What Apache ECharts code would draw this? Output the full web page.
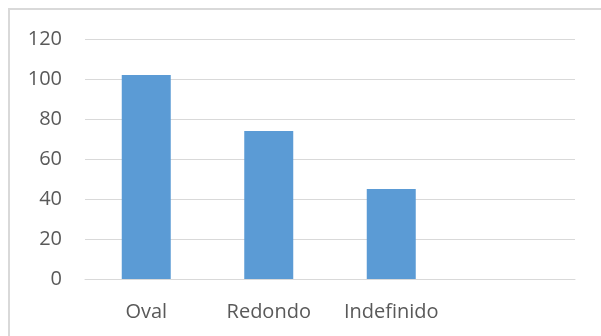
<!DOCTYPE html>
<html>
<head>
<meta charset="utf-8">
<script src="https://cdn.jsdelivr.net/npm/echarts@6/dist/echarts.min.js"></script>
<style>
    html, body { margin: 0; padding: 0; background: #fff; }
    #chart { width: 601px; height: 336px; }
</style>
</head>
<body>
<div id="chart"></div>
<script>
// Data
const categories = ['Oval', 'Redondo', 'Indefinido', ''];
const values = [102, 74, 45, null];
const yTicks = [0, 20, 40, 60, 80, 100, 120];

const labelColor = '#595959';
const gridColor = '#d9d9d9';
const barColor = '#5b9bd5';

let myChart = echarts.init(document.getElementById('chart'), null, { renderer: 'canvas' });

let option = {
    backgroundColor: '#fff',
    animation: false,
    textStyle: { fontFamily: 'Open Sans' },
    grid: { left: 85, right: 26, top: 39, bottom: 57 },
    xAxis: {
        type: 'category',
        data: categories,
        axisTick: { show: false },
        axisLine: { show: true, lineStyle: { color: gridColor, width: 1 } },
        axisLabel: { color: labelColor, fontSize: 20, margin: 23, interval: 0, hideOverlap: false, fontFamily: 'Open Sans' },
        splitLine: { show: false }
    },
    yAxis: {
        type: 'value',
        min: yTicks[0],
        max: yTicks[yTicks.length - 1],
        interval: 20,
        axisTick: { show: false },
        axisLine: { show: false },
        axisLabel: { color: labelColor, fontSize: 20, margin: 23, fontFamily: 'Open Sans' },
        splitLine: { show: true, lineStyle: { color: gridColor, width: 1 } }
    },
    graphic: [
        // partial frame of the chart area (top and left edges only)
        { type: 'rect', shape: { x: 8, y: 8, width: 600, height: 2 }, style: { fill: gridColor }, silent: true },
        { type: 'rect', shape: { x: 8, y: 8, width: 2, height: 340 }, style: { fill: gridColor }, silent: true }
    ],
    series: [
        {
            type: 'bar',
            data: values,
            barWidth: '40%',
            itemStyle: { color: barColor }
        }
    ]
};

myChart.setOption(option, true);
</script>
</body>
</html>
